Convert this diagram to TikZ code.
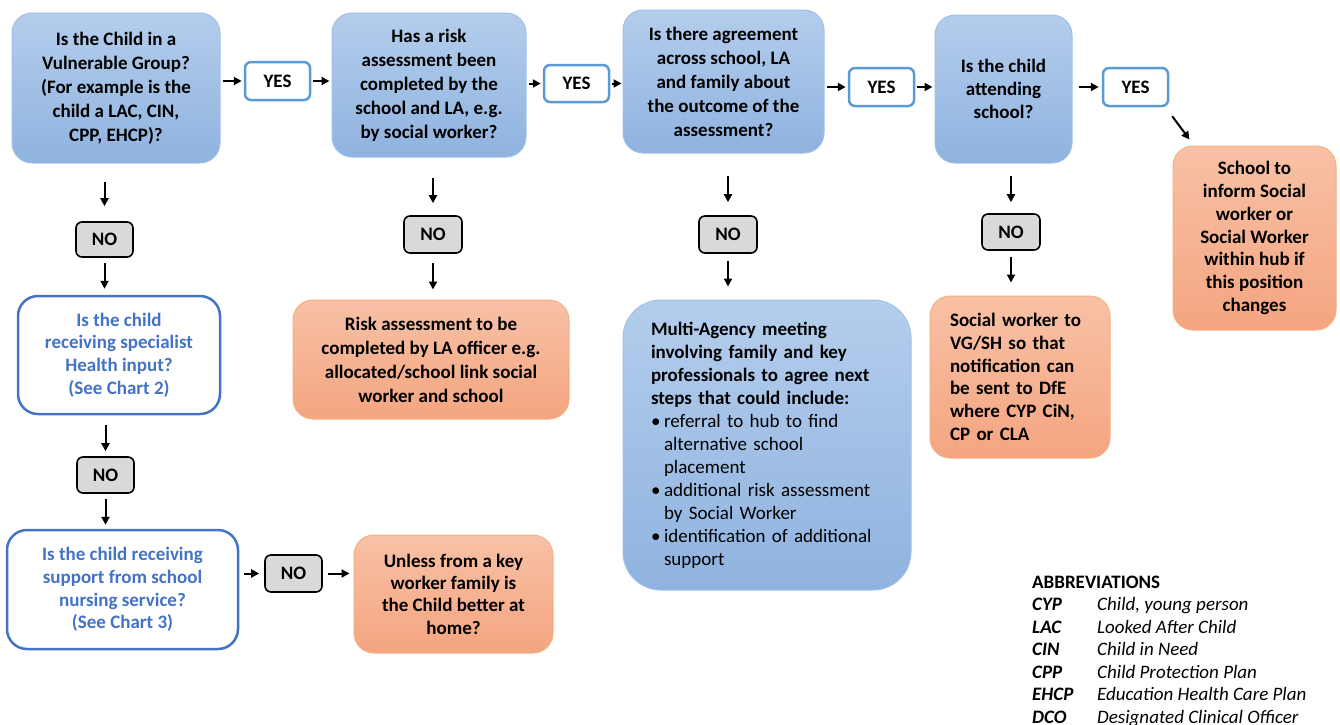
\documentclass[tikz,border=0pt]{standalone}
\usepackage{fontspec}
\setmainfont{Carlito}
\usetikzlibrary{arrows.meta}
\definecolor{bluetop}{RGB}{180,205,236}
\definecolor{bluebot}{RGB}{143,179,223}
\definecolor{blueedge}{RGB}{160,192,232}
\definecolor{orgtop}{RGB}{248,193,166}
\definecolor{orgbot}{RGB}{244,165,128}
\definecolor{orgedge}{RGB}{244,177,131}
\definecolor{yesedge}{RGB}{91,155,213}
\definecolor{outedge}{RGB}{68,114,196}
\definecolor{nofill}{RGB}{217,217,217}
\tikzset{
 base/.style={rounded corners=20pt, inner sep=0pt, align=center, font=\fontsize{19}{24}\selectfont\bfseries},
 bluebox/.style={base, top color=bluetop, bottom color=bluebot, draw=blueedge, line width=1pt},
 orangebox/.style={base, top color=orgtop, bottom color=orgbot, draw=orgedge, line width=1pt},
 outbox/.style={base, fill=white, draw=outedge, line width=2.5pt, text=outedge, font=\fontsize{19}{22.7}\selectfont\bfseries},
 yesbox/.style={base, rounded corners=6pt, fill=white, draw=yesedge, line width=2.5pt, minimum width=65pt, minimum height=38pt},
 nobox/.style={base, rounded corners=6pt, fill=nofill, draw=black, line width=1.6pt, minimum width=57pt, minimum height=36pt},
 arr/.style={line width=2pt, -{Triangle[length=8pt,width=8pt]}},
 sz/.style 2 args={minimum width=#1pt, minimum height=#2pt},
 tight/.style={font=\fontsize{19}{22.7}\selectfont\bfseries},
}
\begin{document}
\begin{tikzpicture}[x=1pt,y=-1pt]
\useasboundingbox (0,0) rectangle (1340,724);
% top row
\node[bluebox, sz={208}{150}] (A) at (116,88) {Is the Child in a\\Vulnerable Group?\\(For example is the\\child a LAC, CIN,\\CPP, EHCP)?};
\node[yesbox] (Y1) at (277.5,81) {YES};
\node[bluebox, sz={194}{144}] (B) at (429,85) {Has a risk\\assessment been\\completed by the\\school and LA, e.g.\\by social worker?};
\node[yesbox, minimum height=37pt] (Y2) at (576.5,83.5) {YES};
\node[bluebox, sz={201}{143}] (C) at (723.5,81.5) {Is there agreement\\across school, LA\\and family about\\the outcome of the\\assessment?};
\node[yesbox] (Y3) at (881.5,87) {YES};
\node[bluebox, sz={137}{148}, font=\fontsize{19}{23}\selectfont\bfseries] (D) at (1003.5,89) {Is the child\\attending\\school?};
\node[yesbox] (Y4) at (1135.5,87) {YES};
\node[orangebox, tight, sz={163}{184}] (E) at (1254.5,238) {School to\\inform Social\\worker or\\Social Worker\\within hub if\\this position\\changes};
% column 1
\node[nobox, minimum height=35pt] (N1) at (104.5,239.5) {NO};
\node[outbox, sz={202}{118}] (F) at (119,355) {Is the child\\receiving specialist\\Health input?\\(See Chart 2)};
\node[nobox] (N2) at (105.5,475) {NO};
\node[outbox, sz={231}{119}] (G) at (122.5,589.5) {Is the child receiving\\support from school\\nursing service?\\(See Chart 3)};
\node[nobox, minimum height=37pt] (N3) at (293.5,573.5) {NO};
\node[orangebox, font=\fontsize{19}{22.3}\selectfont\bfseries, sz={199}{118}] (H) at (453.5,594) {Unless from a key\\worker family is\\the Child better at\\home?};
% column 2
\node[nobox, minimum width=58pt, minimum height=37pt] (NB) at (433,234.5) {NO};
\node[orangebox, sz={276}{119}] (I) at (431,359.5) {Risk assessment to be\\completed by LA officer e.g.\\allocated/school link social\\worker and school};
% column 3
\node[nobox, minimum width=58pt, minimum height=37pt] (NC) at (728,234.5) {NO};
\node[bluebox, rounded corners=38pt, sz={288}{290}, align=left, text width=232pt, inner xsep=28pt, font=\fontsize{19}{23}\selectfont] (J) at (767,445)
 {\textbf{Multi-Agency meeting}\\\textbf{involving family and key}\\\textbf{professionals to agree next}\\\textbf{steps that could include:}\\
  \makebox[13pt][l]{\textbullet}referral to hub to find\\\hspace*{13pt}alternative school\\\hspace*{13pt}placement\\
  \makebox[13pt][l]{\textbullet}additional risk assessment\\\hspace*{13pt}by Social Worker\\
  \makebox[13pt][l]{\textbullet}identification of additional\\\hspace*{13pt}support};
% column 4
\node[nobox, minimum width=58pt] (ND) at (1011,232) {NO};
\node[orangebox, tight, sz={180}{162}, align=left, text width=140pt, inner xsep=20pt] (K) at (1020,377) {Social worker to\\VG/SH so that\\notification can\\be sent to DfE\\where CYP CiN,\\CP or CLA};
% horizontal arrows
\draw[arr, shorten <=2pt, shorten >=2pt] (A.east |- Y1) -- (Y1.west);
\draw[arr, shorten <=2pt, shorten >=2pt] (Y1.east) -- (B.west |- Y1);
\draw[arr, shorten <=2pt, shorten >=2pt] (B.east |- Y2) -- (Y2.west);
\draw[arr, shorten <=2pt, shorten >=1pt] (Y2.east) -- (C.west |- Y2);
\draw[arr, shorten <=2pt, shorten >=2pt] (C.east |- Y3) -- (Y3.west);
\draw[arr, shorten <=2pt, shorten >=2pt] (Y3.east) -- (D.west |- Y3);
\draw[arr, shorten <=6pt, shorten >=3pt] (D.east |- Y4) -- (Y4.west);
\draw[arr] ([shift={(3,9)}]Y4.south east) -- ([shift={(17,-6)}]E.north west);
% column 1 arrows
\draw[arr, shorten <=18pt, shorten >=15pt] (N1 |- A.south) -- (N1.north);
\draw[arr, shorten <=5pt, shorten >=6pt] (N1.south) -- (N1 |- F.north);
\draw[arr, shorten <=10pt, shorten >=5pt] (N2 |- F.south) -- (N2.north);
\draw[arr, shorten <=5pt, shorten >=4pt] (N2.south) -- (N2 |- G.north);
\draw[arr, shorten <=5pt, shorten >=5pt] (G.east |- N3) -- (N3.west);
\draw[arr, shorten <=5pt, shorten >=4pt] (N3.east) -- (H.west |- N3);
% column 2
\draw[arr, shorten <=20pt, shorten >=12pt] (B.south -| NB) -- (NB.north);
\draw[arr, shorten <=9pt, shorten >=10pt] (NB.south) -- (NB |- I.north);
% column 3
\draw[arr, shorten <=22pt, shorten >=13pt] (C.south -| NC) -- (NC.north);
\draw[arr, shorten <=7pt, shorten >=13pt] (NC.south) -- (NC |- J.north);
% column 4
\draw[arr, shorten <=12pt, shorten >=11pt] (D.south -| ND) -- (ND.north);
\draw[arr, shorten <=6pt, shorten >=13pt] (ND.south) -- (ND |- K.north);
% abbreviations
\node[anchor=base west, inner sep=0pt, font=\fontsize{19}{23}\selectfont\bfseries] (abt) at (1032,588) {ABBREVIATIONS};
\foreach \i/\a/\d in {1/CYP/{Child, young person},2/LAC/{Looked After Child},3/CIN/{Child in Need},4/CPP/{Child Protection Plan},5/EHCP/{Education Health Care Plan},6/DCO/{Designated Clinical Officer}}{
  \node[anchor=base west, inner sep=0pt, font=\fontsize{19}{23}\selectfont\bfseries\itshape] (ab\i) at (1032,588+22.5*\i) {\a};
  \node[anchor=base west, inner sep=0pt, font=\fontsize{19}{23}\selectfont\itshape] (ad\i) at (1097,588+22.5*\i) {\d};
}
\end{tikzpicture}
\end{document}
